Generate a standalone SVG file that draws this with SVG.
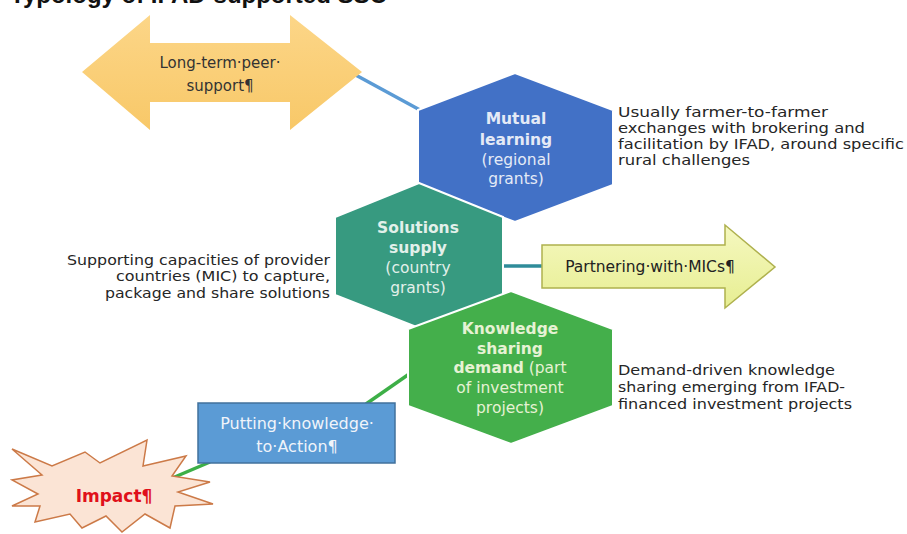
<svg xmlns="http://www.w3.org/2000/svg" width="907" height="534" viewBox="0 0 907 534">
<style>
.desc{font-family:"DejaVu Sans",sans-serif;font-size:13.5px;fill:#262626}
.hx{font-family:"DejaVu Sans",sans-serif;font-size:15.5px;text-anchor:middle}
.b{font-weight:bold}
.lbl{font-family:"DejaVu Sans",sans-serif;font-size:15px;text-anchor:middle}
.hex{stroke:#ffffff;stroke-width:2}
.conn{fill:none;stroke-width:3.5;stroke-linecap:butt}
</style>
<defs>
<linearGradient id="gOr" x1="0" y1="0" x2="0" y2="1">
<stop offset="0" stop-color="#FCD688"/>
<stop offset="1" stop-color="#F8C868"/>
</linearGradient>
<linearGradient id="gYe" x1="0" y1="0" x2="0" y2="1">
<stop offset="0" stop-color="#F5F8C0"/>
<stop offset="1" stop-color="#E7EE92"/>
</linearGradient>
</defs>
<rect x="0" y="0" width="907" height="534" fill="#ffffff"/>
<text x="10" y="3" style="font-family:'Liberation Sans',sans-serif;font-size:24px;font-weight:bold;fill:#111">Typology of IFAD-supported SSC</text>

<g id="connectors">
<line class="conn" x1="352" y1="73" x2="420" y2="110" stroke="#5B9BD5"/>
<line class="conn" x1="500" y1="266" x2="544" y2="266" stroke="#2F8C9A"/>
<line class="conn" x1="412" y1="372" x2="366" y2="404" stroke="#3DAF47" stroke-width="4"/>
<line class="conn" x1="210" y1="462" x2="170" y2="479" stroke="#3DAF47" stroke-width="4"/>
</g>

<g id="peer-support">
<polygon points="82,72 150,15 150,43 290,43 290,15 362,72 290,130 290,102 150,102 150,130" fill="url(#gOr)"/>
<text class="lbl" x="220" y="68" fill="#333">Long-term·peer·</text>
<text class="lbl" x="220" y="91" fill="#333">support¶</text>
</g>

<g id="mutual-learning">
<polygon class="hex" points="515,73 613,110 613,185 515,222 418,185 418,110" fill="#4271C6"/>
<text class="hx b" x="516" y="124" fill="#E4EAF6">Mutual</text>
<text class="hx b" x="516" y="145" fill="#E4EAF6">learning</text>
<text class="hx" x="516" y="165" fill="#E4EAF6">(regional</text>
<text class="hx" x="516" y="184" fill="#E4EAF6">grants)</text>
</g>

<g id="solutions-supply">
<polygon class="hex" points="419,183 503,217 503,295 419,328 335,295 335,217" fill="#379A80"/>
<text class="hx b" x="418" y="233" fill="#E2F0EA">Solutions</text>
<text class="hx b" x="418" y="253" fill="#E2F0EA">supply</text>
<text class="hx" x="418" y="273" fill="#E2F0EA">(country</text>
<text class="hx" x="418" y="293" fill="#E2F0EA">grants)</text>
</g>

<g id="knowledge-demand">
<polygon class="hex" points="511,291 613,329 613,406 511,444 408,406 408,329" fill="#44AF4B"/>
<text class="hx b" x="510" y="334" fill="#E6F2D4">Knowledge</text>
<text class="hx b" x="510" y="354" fill="#E6F2D4">sharing</text>
<text class="hx" x="510" y="373" fill="#E6F2D4"><tspan class="b">demand</tspan> (part</text>
<text class="hx" x="510" y="393" fill="#E6F2D4">of investment</text>
<text class="hx" x="510" y="413" fill="#E6F2D4">projects)</text>
</g>

<g id="desc-mutual">
<text class="desc" x="618" y="117" textLength="210" lengthAdjust="spacingAndGlyphs">Usually farmer-to-farmer</text>
<text class="desc" x="618" y="133" textLength="247" lengthAdjust="spacingAndGlyphs">exchanges with brokering and</text>
<text class="desc" x="618" y="149" textLength="286" lengthAdjust="spacingAndGlyphs">facilitation by IFAD, around specific</text>
<text class="desc" x="618" y="165" textLength="132" lengthAdjust="spacingAndGlyphs">rural challenges</text>
</g>

<g id="desc-solutions">
<text class="desc" x="67" y="265" textLength="263" lengthAdjust="spacingAndGlyphs">Supporting capacities of provider</text>
<text class="desc" x="116" y="281" textLength="214" lengthAdjust="spacingAndGlyphs">countries (MIC) to capture,</text>
<text class="desc" x="105" y="298" textLength="225" lengthAdjust="spacingAndGlyphs">package and share solutions</text>
</g>

<g id="desc-demand">
<text class="desc" x="618" y="375" textLength="217" lengthAdjust="spacingAndGlyphs">Demand-driven knowledge</text>
<text class="desc" x="618" y="392" textLength="227" lengthAdjust="spacingAndGlyphs">sharing emerging from IFAD-</text>
<text class="desc" x="618" y="409" textLength="234" lengthAdjust="spacingAndGlyphs">financed investment projects</text>
</g>

<g id="partnering-mics">
<polygon points="542,245 725,245 725,225 775,267 725,308 725,288 542,288" fill="url(#gYe)" stroke="#AFB14E" stroke-width="1.5"/>
<text class="lbl" x="650" y="272" fill="#222" style="font-size:15.5px">Partnering·with·MICs¶</text>
</g>

<g id="knowledge-to-action">
<rect x="198" y="403" width="197" height="60" fill="#5B9BD5" stroke="#41719C" stroke-width="1.5"/>
<text class="lbl" x="297" y="429" fill="#F0F4FA" style="font-size:16px">Putting·knowledge·</text>
<text class="lbl" x="297" y="452" fill="#F0F4FA" style="font-size:16px">to·Action¶</text>
</g>

<g id="impact">
<polygon points="12,449 52,466 85,452 100,463 147,440 143,466 186,456 172,476 210,482 178,492 213,504 175,506 170,528 145,514 122,532 106,516 82,528 70,514 35,522 40,506 12,506 38,494 12,480 42,475" fill="#FBE4D5" stroke="#CC7A48" stroke-width="1.5" stroke-linejoin="miter"/>
<text x="114" y="502" text-anchor="middle" style="font-family:'DejaVu Sans',sans-serif;font-size:17px;font-weight:bold;fill:#E0101A">Impact¶</text>
</g>
</svg>
